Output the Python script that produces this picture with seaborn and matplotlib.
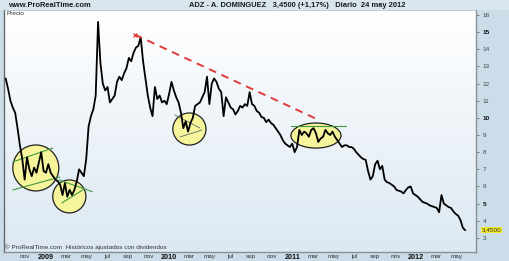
import numpy as np
import pandas as pd
import matplotlib
matplotlib.use("Agg")
import matplotlib.pyplot as plt
import matplotlib.dates as mdates
import matplotlib.transforms as mtransforms
from matplotlib.patches import Ellipse, Rectangle
from matplotlib.colors import LinearSegmentedColormap
import seaborn as sns

# ---------------- data (weekly closes) ----------------
dates = pd.date_range("2008-09-05", "2012-05-25", freq="W-FRI")
prices = [
    12.3, 11.7, 11.0, 10.6, 10.3, 9.4, 8.4, 7.6, 6.4, 7.7,
    7.0, 6.6, 7.1, 6.8, 7.4, 8.0, 6.9, 6.8, 7.3, 6.8,
    6.6, 6.4, 6.3, 6.1, 5.5, 6.2, 5.4, 5.8, 5.5, 5.8,
    6.3, 7.0, 6.8, 6.6, 7.6, 9.5, 10.1, 10.5, 11.3, 15.6,
    13.2, 12.0, 11.6, 11.8, 10.9, 11.1, 11.3, 12.1, 12.4, 12.2,
    12.6, 12.9, 13.5, 13.3, 13.8, 14.1, 14.2, 14.7, 13.3, 12.3,
    11.3, 10.6, 10.1, 11.8, 11.1, 11.3, 10.9, 11.0, 10.8, 11.4,
    12.1, 11.6, 11.2, 10.9, 10.3, 9.4, 9.8, 9.2, 9.7, 10.0,
    10.7, 10.8, 10.9, 11.2, 11.5, 12.4, 10.8, 12.0, 12.3, 12.1,
    11.7, 11.5, 10.1, 11.2, 10.9, 10.6, 10.5, 10.2, 10.4, 10.7,
    10.6, 10.8, 10.7, 11.5, 10.8, 10.7, 10.4, 10.3, 10.05, 10.0,
    9.75, 9.9, 9.7, 9.6, 9.4, 9.2, 9.0, 8.7, 8.5, 8.4,
    8.3, 8.5, 8.0, 8.3, 9.3, 9.0, 9.2, 9.1, 8.9, 9.3,
    9.4, 9.1, 8.6, 8.8, 8.9, 9.3, 9.1, 9.0, 9.2, 8.9,
    8.7, 8.5, 8.3, 8.4, 8.4, 8.3, 8.3, 8.2, 8.0, 7.85,
    7.7, 7.6, 7.55, 6.9, 6.4, 6.6, 7.3, 7.5, 7.0, 7.2,
    6.4, 6.25, 6.2, 6.1, 6.0, 5.8, 5.75, 5.7, 5.6, 5.8,
    5.95, 6.0, 5.6, 5.5, 5.4, 5.25, 5.1, 5.05, 5.0, 4.9,
    4.85, 4.8, 4.75, 4.5, 5.5, 5.0, 4.9, 4.8, 4.75, 4.55,
    4.4, 4.3, 4.05, 3.6, 3.45,
]
last_price = 3.45

# x-axis ticks (every two months) and y ticks
tick_dates = pd.date_range("2008-11-01", "2012-05-01", freq="2MS")
month_names = {1: None, 3: "mar", 5: "may", 7: "jul", 9: "sep", 11: "nov"}
y_ticks = list(range(3, 17))
y_bold = [5, 10, 15]

# drawn annotations (dates / prices)
trend_dates = ["2009-09-22", "2011-03-17"]
trend_vals = [14.85, 9.9]

circle_dates = ["2008-12-03", "2009-03-12", "2010-03-02", "2011-03-11"]
circle_vals = [7.08, 5.42, 9.35, 8.97]
circle_w_days = [136, 98, 98, 148]
circle_h_vals = [2.68, 1.92, 1.87, 1.46]

green_lines = [
    (["2008-09-26", "2009-01-22"], [7.43, 8.24]),
    (["2008-09-26", "2009-02-12"], [5.80, 6.55]),
    (["2009-02-09", "2009-05-19"], [6.38, 5.70]),
    (["2009-02-18", "2009-04-21"], [5.04, 5.80]),
    (["2010-12-27", "2011-06-07"], [9.53, 9.53]),
]
grey_lines = [
    (["2010-01-18", "2010-04-02"], [10.17, 9.41]),
    (["2010-02-02", "2010-04-08"], [8.89, 9.29]),
]

# ---------------- figure ----------------
sns.set_theme(style="white")
plt.rcParams["font.family"] = ["Liberation Sans", "DejaVu Sans"]

W, H = 510, 261
fig = plt.figure(figsize=(W / 100, H / 100), dpi=100)
fig.patch.set_facecolor("#cbdde9")
fig.add_artist(Rectangle((0, 1 - 10 / H), 1, 10 / H, transform=fig.transFigure,
                         facecolor="#d9e6ee", edgecolor="none", zorder=0))

ax = fig.add_axes([4 / W, 1 - 252 / H, 472 / W, 242 / H])
grad = np.linspace(0, 1, 256).reshape(-1, 1)
cmap = LinearSegmentedColormap.from_list("bg", ["#ffffff", "#dce8f2"])
ax.imshow(grad, extent=[0, 1, 0, 1], transform=ax.transAxes, cmap=cmap,
          aspect="auto", origin="upper", zorder=0)

df = pd.DataFrame({"fecha": dates, "precio": prices})

# circles
for d, v, w, h in zip(circle_dates, circle_vals, circle_w_days, circle_h_vals):
    ax.add_patch(Ellipse((mdates.date2num(pd.Timestamp(d)), v), w, h,
                         facecolor="#f6f59c", edgecolor="#222222", lw=0.9, zorder=2))

for ds, vs in green_lines:
    ax.plot(pd.to_datetime(ds), vs, color="#3f9a3f", lw=0.8, zorder=3)
for ds, vs in grey_lines:
    ax.plot(pd.to_datetime(ds), vs, color="#6f7f6f", lw=0.7, zorder=3)

sns.lineplot(data=df, x="fecha", y="precio", ax=ax, color="black", lw=1.3, zorder=5)

ax.plot(pd.to_datetime(trend_dates), trend_vals, color="#e03a3a", lw=1.4,
        dashes=(4, 3), zorder=6)
ax.plot(pd.to_datetime(trend_dates[:1]), trend_vals[:1], marker="x", color="#e03a3a",
        ms=3, mew=0.9, zorder=6)

ax.set_xlim(pd.Timestamp("2008-08-31"), pd.Timestamp("2012-06-26"))
ax.set_ylim(2.18, 16.29)
ax.set_xlabel("")
ax.set_ylabel("")

# x ticks
ax.set_xticks(tick_dates)
xl = []
for t in tick_dates:
    xl.append(str(t.year) if t.month == 1 else month_names[t.month])
ax.set_xticklabels(xl)
for lab, t in zip(ax.get_xticklabels(), tick_dates):
    lab.set_fontsize(4.6)
    lab.set_color("#333333")
    if t.month == 1:
        lab.set_fontweight("bold")
        lab.set_fontsize(5.2)
        lab.set_color("#111111")
ax.tick_params(axis="x", length=0, pad=1.5)

# y ticks on the right
ax.yaxis.tick_right()
ax.set_yticks(y_ticks)
ax.set_yticklabels([str(v) for v in y_ticks])
ax.tick_params(axis="y", length=2, width=0.5, pad=3, color="#555555")
for lab, v in zip(ax.get_yticklabels(), y_ticks):
    lab.set_fontsize(4.6)
    lab.set_color("#444444")
    if v in y_bold:
        lab.set_fontweight("bold")
        lab.set_color("#111111")

for s in ["left", "right", "bottom"]:
    ax.spines[s].set_color("#8a8f94")
    ax.spines[s].set_linewidth(1.0)
ax.spines["left"].set_color("#666a6e")
ax.spines["top"].set_color("#b8c6d0")
ax.spines["top"].set_linewidth(0.6)

trans = mtransforms.blended_transform_factory(ax.transAxes, ax.transData)
ax.text(1.012, last_price, "3,4500", transform=trans, fontsize=4.6, color="#333333",
        va="center", ha="left",
        bbox=dict(boxstyle="square,pad=0.12", facecolor="#f2ea2a", edgecolor="none"))

ax.text(0.005, 0.995, "Precio", transform=ax.transAxes, fontsize=4.6,
        color="#333333", va="top", ha="left")
ax.text(0.003, 0.008, "© ProRealTime.com  Históricos ajustados con dividendos",
        transform=ax.transAxes, fontsize=4.6, color="#333333", va="bottom", ha="left")

fig.text(8 / W, 1 - 5.5 / H, "www.ProRealTime.com", fontsize=5.4, fontweight="bold",
         color="#1a1a1a", va="center", ha="left")
fig.text(189 / W, 1 - 5.5 / H,
         "ADZ - A. DOMINGUEZ   3,4500 (+1,17%)   Diario  24 may 2012",
         fontsize=5.4, fontweight="bold", color="#1a1a1a", va="center", ha="left")

fig.savefig("out.png", dpi=100, facecolor=fig.get_facecolor())
